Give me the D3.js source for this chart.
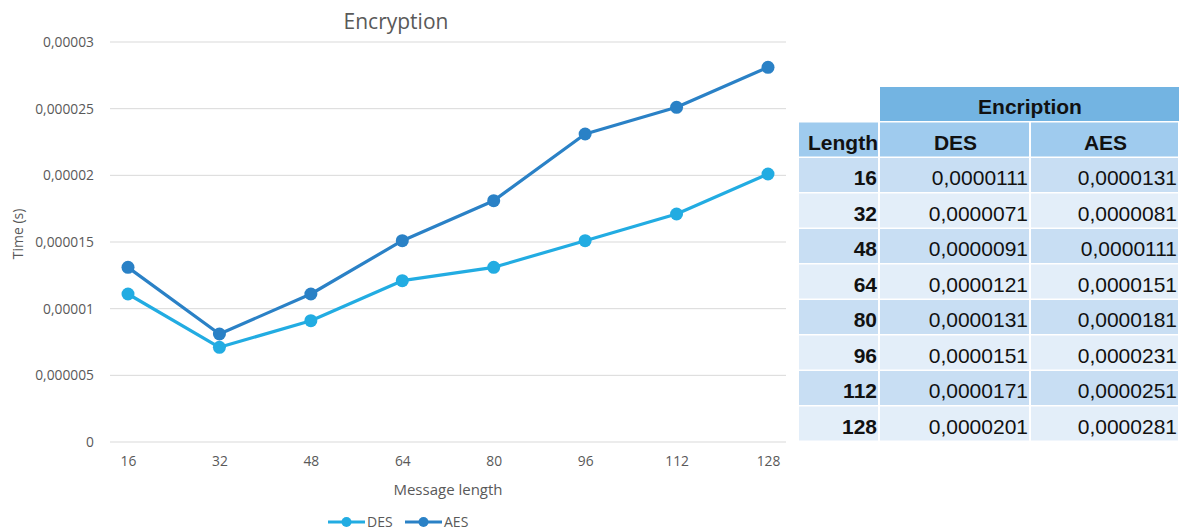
<!DOCTYPE html>
<html>
<head>
<meta charset="utf-8">
<script src="https://cdn.jsdelivr.net/npm/d3@7"></script>
<style>
  body { margin: 0; background: #fff; }
  svg { display: block; }
</style>
</head>
<body>
<svg id="chart" width="1189" height="530"></svg>
<script>
// data
var lengths = [16, 32, 48, 64, 80, 96, 112, 128];
var desTimes = [0.0000111, 0.0000071, 0.0000091, 0.0000121, 0.0000131, 0.0000151, 0.0000171, 0.0000201];
var aesTimes = [0.0000131, 0.0000081, 0.0000111, 0.0000151, 0.0000181, 0.0000231, 0.0000251, 0.0000281];
var yTicks = [0, 0.000005, 0.00001, 0.000015, 0.00002, 0.000025, 0.00003];
var yTickLabels = ["0", "0,000005", "0,00001", "0,000015", "0,00002", "0,000025", "0,00003"];
var seriesNames = ["DES", "AES"];
var tableTitle = "Encription";
var rowHeader = "Length";

var colors = { DES: "#22ace2", AES: "#2a81c6" };
var textColor = "#595959";
var font = "'Open Sans', sans-serif";

var svg = d3.select("#chart");

// ---- line chart ----
var x = d3.scalePoint().domain(lengths).range([128, 768]);
var y = d3.scaleLinear().domain([0, 0.00003]).range([442, 42]);

// gridlines
svg.append("g")
    .selectAll("line")
    .data(yTicks)
    .join("line")
    .attr("x1", 110)
    .attr("x2", 786)
    .attr("y1", function(d) { return y(d); })
    .attr("y2", function(d) { return y(d); })
    .attr("stroke", "#d9d9d9")
    .attr("stroke-width", 1);

// y axis labels
var yAxis = d3.axisLeft(y)
    .tickValues(yTicks)
    .tickFormat(function(d, i) { return yTickLabels[i]; })
    .tickSize(0)
    .tickPadding(0);
var gy = svg.append("g").attr("transform", "translate(94,0)").call(yAxis);
gy.select(".domain").remove();
gy.selectAll("text")
    .attr("fill", textColor)
    .style("font-family", font)
    .style("font-size", "13.8px");

// x axis labels
var xAxis = d3.axisBottom(x).tickSize(0).tickPadding(0);
var gx = svg.append("g").attr("transform", "translate(0,456)").call(xAxis);
gx.select(".domain").remove();
gx.selectAll("text")
    .attr("fill", textColor)
    .style("font-family", font)
    .style("font-size", "13.8px");

// title and axis titles
svg.append("text")
    .attr("x", 396).attr("y", 29)
    .attr("text-anchor", "middle")
    .attr("fill", textColor)
    .style("font-family", font)
    .style("font-size", "21px")
    .text("Encryption");

svg.append("text")
    .attr("transform", "translate(23,234) rotate(-90)")
    .attr("text-anchor", "middle")
    .attr("fill", textColor)
    .style("font-family", font)
    .style("font-size", "14px")
    .text("Time (s)");

svg.append("text")
    .attr("x", 448).attr("y", 495)
    .attr("text-anchor", "middle")
    .attr("fill", textColor)
    .style("font-family", font)
    .style("font-size", "15px")
    .text("Message length");

// series
var series = [
    { name: "DES", values: desTimes },
    { name: "AES", values: aesTimes }
];

var line = d3.line()
    .x(function(d, i) { return x(lengths[i]); })
    .y(function(d) { return y(d); });

var gs = svg.append("g")
    .selectAll("g")
    .data(series)
    .join("g");

gs.append("path")
    .attr("d", function(s) { return line(s.values); })
    .attr("fill", "none")
    .attr("stroke", function(s) { return colors[s.name]; })
    .attr("stroke-width", 3.2)
    .attr("stroke-linejoin", "round");

gs.selectAll("circle")
    .data(function(s) { return s.values.map(function(v, i) { return { v: v, i: i, name: s.name }; }); })
    .join("circle")
    .attr("cx", function(d) { return x(lengths[d.i]); })
    .attr("cy", function(d) { return y(d.v); })
    .attr("r", 6.5)
    .attr("fill", function(d) { return colors[d.name]; });

// legend
var legend = svg.append("g")
    .selectAll("g")
    .data(seriesNames)
    .join("g")
    .attr("transform", function(d, i) { return "translate(" + (328 + i * 77) + ",522)"; });
legend.append("line")
    .attr("x1", 0).attr("x2", 37)
    .attr("stroke", function(d) { return colors[d]; })
    .attr("stroke-width", 3);
legend.append("circle")
    .attr("cx", 18.5).attr("r", 5)
    .attr("fill", function(d) { return colors[d]; });
legend.append("text")
    .attr("x", 39).attr("y", 5)
    .attr("fill", textColor)
    .style("font-family", font)
    .style("font-size", "14px")
    .text(function(d) { return d; });

// ---- table ----
var fmt = function(v) { return d3.format(".7f")(v).replace(".", ","); };
var cols = [799, 880, 1031, 1180];   // column edges
var rowH = 35.5;
var tTop = 87;
var tableFont = "'Liberation Sans', Arial, sans-serif";
var tbl = svg.append("g");

// header: Encription
tbl.append("rect")
    .attr("x", cols[1]).attr("y", tTop)
    .attr("width", cols[3] - cols[1] - 1).attr("height", rowH - 1.5)
    .attr("fill", "#73b4e2");
tbl.append("text")
    .attr("x", (cols[1] + cols[3]) / 2).attr("y", tTop + 27)
    .attr("text-anchor", "middle")
    .attr("fill", "#111")
    .style("font-family", tableFont)
    .style("font-size", "21px")
    .style("font-weight", "bold")
    .text(tableTitle);

// second header row
var headers = [rowHeader].concat(seriesNames);
tbl.append("g")
    .selectAll("rect")
    .data(headers)
    .join("rect")
    .attr("x", function(d, i) { return cols[i]; })
    .attr("y", tTop + rowH)
    .attr("width", function(d, i) { return cols[i + 1] - cols[i] - 2; })
    .attr("height", rowH - 1.5)
    .attr("fill", "#9fcbee");
tbl.append("g")
    .selectAll("text")
    .data(headers)
    .join("text")
    .attr("x", function(d, i) { return i === 0 ? cols[1] - 2 : (cols[i] + cols[i + 1]) / 2; })
    .attr("y", tTop + rowH + 27)
    .attr("text-anchor", function(d, i) { return i === 0 ? "end" : "middle"; })
    .attr("fill", "#111")
    .style("font-family", tableFont)
    .style("font-size", "21px")
    .style("font-weight", "bold")
    .text(function(d) { return d; });

// data rows
var rows = lengths.map(function(l, i) { return [String(l), fmt(desTimes[i]), fmt(aesTimes[i])]; });
var rg = tbl.append("g")
    .selectAll("g")
    .data(rows)
    .join("g")
    .attr("transform", function(d, i) { return "translate(0," + (tTop + rowH * (i + 2)) + ")"; });
rg.selectAll("rect")
    .data(function(r, ri) { return r.map(function(c) { return ri; }); })
    .join("rect")
    .attr("x", function(d, i) { return cols[i]; })
    .attr("width", function(d, i) { return cols[i + 1] - cols[i] - 2; })
    .attr("height", rowH - 1.5)
    .attr("fill", function(ri) { return ri % 2 === 0 ? "#c8def3" : "#e3eef9"; });
rg.selectAll("text")
    .data(function(r) { return r; })
    .join("text")
    .attr("x", function(d, i) { return cols[i + 1] - 3; })
    .attr("y", 27)
    .attr("text-anchor", "end")
    .attr("fill", "#111")
    .style("font-family", tableFont)
    .style("font-size", "21px")
    .style("font-weight", function(d, i) { return i === 0 ? "bold" : "normal"; })
    .text(function(d) { return d; });
</script>
</body>
</html>
